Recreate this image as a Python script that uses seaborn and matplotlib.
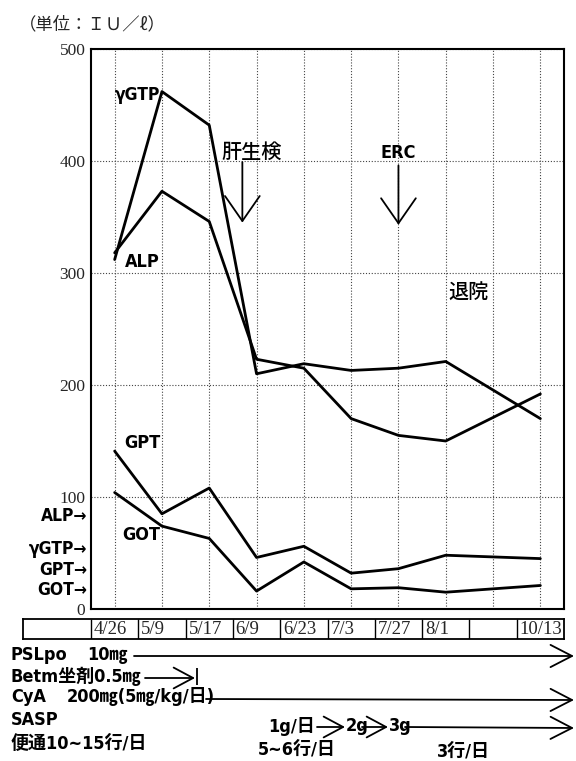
import numpy as np
import pandas as pd
import matplotlib
matplotlib.use("Agg")
import matplotlib.pyplot as plt
import seaborn as sns
from matplotlib import font_manager as fm

# ---------------- data ----------------
dates = ["4/26", "5/9", "5/17", "6/9", "6/23", "7/3", "7/27", "8/1", "", "10/13"]
measured_dates = ["4/26", "5/9", "5/17", "6/9", "6/23", "7/3", "7/27", "8/1", "10/13"]
ggtp = [312, 462, 432, 210, 219, 213, 215, 221, 170]
alp = [318, 373, 346, 223, 215, 170, 155, 150, 192]
gpt = [141, 85, 108, 46, 56, 32, 36, 48, 45]
got = [104, 74, 63, 16, 42, 18, 19, 15, 21]
yticks = [0, 100, 200, 300, 400, 500]
normal_labels = ["ALP", "γGTP", "GPT", "GOT"]
normal_values = [83, 54, 35, 17]

# ---------------- fonts ----------------
sns.set_style("white")
names = {f.name for f in fm.fontManager.ttflist}
stretch = "normal"
if "Liberation Sans Narrow" in names:
    latin = "Liberation Sans Narrow"
elif any(f.name == "DejaVu Sans" and f.stretch == "condensed" for f in fm.fontManager.ttflist):
    latin = "DejaVu Sans"
    stretch = "condensed"
else:
    latin = "Roboto"
fam_sans = [latin, "Noto Sans CJK JP", "DejaVu Sans"]
fam_cjk = ["Noto Sans CJK JP", "DejaVu Sans"]
fam_serif = ["Liberation Serif", "DejaVu Serif"]
plt.rcParams["font.family"] = fam_sans
ts = dict(family=fam_sans, fontstretch=stretch, color="black", fontweight="bold")
tc = dict(family=fam_cjk, color="black", fontweight="medium")

W, H = 576, 761
fig = plt.figure(figsize=(W / 100, H / 100), dpi=100)
fig.patch.set_facecolor("white")

# ---------------- main chart ----------------
L, R, T, B = 91, 564, 49, 609
ax = fig.add_axes([L / W, 1 - B / H, (R - L) / W, (B - T) / H])

pos = [dates.index(d) for d in measured_dates]
rows = []
for name, vals in [("γGTP", ggtp), ("ALP", alp), ("GPT", gpt), ("GOT", got)]:
    for p, v in zip(pos, vals):
        rows.append({"pos": p, "value": v, "marker": name})
df = pd.DataFrame(rows)
sns.lineplot(data=df, x="pos", y="value", hue="marker", units="marker", estimator=None,
             palette={"γGTP": "black", "ALP": "black", "GPT": "black", "GOT": "black"},
             linewidth=2.0, legend=False, ax=ax, zorder=3)

ax.set_xlim(-0.5, 9.5)
ax.set_ylim(0, 500)
ax.set_xticks(range(len(dates)))
ax.set_yticks(yticks)
ax.set_yticklabels([str(v) for v in yticks], family=fam_serif, fontsize=12.5)
ax.tick_params(axis="x", length=0, labelbottom=False)
ax.tick_params(axis="y", length=4, width=1, direction="out", pad=0, color="black")
ax.grid(True, linestyle=(0, (1, 1.6)), color="#444444", linewidth=0.8)
ax.set_xlabel("")
ax.set_ylabel("")
for s in ax.spines.values():
    s.set_color("black")
    s.set_linewidth(1.5)
    s.set_visible(True)

# series labels
ax.text(0.0, 459, "γGTP", ha="left", va="center", fontsize=12.5, **ts)
ax.text(0.21, 310, "ALP", ha="left", va="center", fontsize=13, **ts)
ax.text(0.21, 148, "GPT", ha="left", va="center", fontsize=13, **ts)
ax.text(0.17, 66, "GOT", ha="left", va="center", fontsize=13, **ts)

# normal-range markers on the left
for lab, v in zip(normal_labels, normal_values):
    ax.text(-0.57, v, lab + "→", ha="right", va="center", fontsize=12.5, clip_on=False, **ts)

# event annotations
arrow_big = dict(arrowstyle="->,head_length=1.8,head_width=1.25", lw=1.3, color="black",
                 shrinkA=0, shrinkB=0)
ax.text(2.26, 408, "肝生検", ha="left", va="center", fontsize=14.5, **tc)
ax.annotate("", xy=(2.7, 345), xytext=(2.7, 399), arrowprops=arrow_big)
ax.text(6.0, 407, "ERC", ha="center", va="center", fontsize=13, **ts)
ax.annotate("", xy=(6.0, 343), xytext=(6.0, 396), arrowprops=arrow_big)
ax.text(7.06, 282, "退院", ha="left", va="center", fontsize=14.5, **tc)

# unit title
fig.text(19 / W, 1 - 24 / H, "（単位：ＩＵ／ℓ）", ha="left", va="center", fontsize=12.5,
         family=fam_cjk)

# ---------------- date table ----------------
tL, tT, tB = 23, 619, 639
axt = fig.add_axes([tL / W, 1 - tB / H, (R - tL) / W, (tB - tT) / H])
left_edge = -0.5 - (L - tL) / ((R - L) / 10)
axt.set_xlim(left_edge, 9.5)
axt.set_ylim(0, 1)
axt.set_xticks([])
axt.set_yticks([])
for s in axt.spines.values():
    s.set_color("black")
    s.set_linewidth(1.3)
    s.set_visible(True)
axt.vlines([i - 0.5 for i in range(len(dates))], 0, 1, color="black", lw=1.0)
for i, d in enumerate(dates):
    axt.text(i - 0.44, 0.45, d, ha="left", va="center", family=fam_serif, fontsize=13.5)

# ---------------- treatment rows ----------------
ov = fig.add_axes([0, 0, 1, 1])
ov.set_xlim(0, W)
ov.set_ylim(H, 0)
ov.axis("off")
arrow_row = dict(arrowstyle="->,head_length=1.55,head_width=0.8", lw=1.3, color="black",
                 shrinkA=0, shrinkB=0)
arrow_small = dict(arrowstyle="->,head_length=1.4,head_width=0.75", lw=1.3, color="black",
                   shrinkA=0, shrinkB=0)

fs = 13
ov.text(11, 655, "PSLpo", ha="left", va="center", fontsize=fs, **ts)
ov.text(87, 655, "10㎎", ha="left", va="center", fontsize=fs, **ts)
ov.annotate("", xy=(574, 656), xytext=(134, 656), arrowprops=arrow_row)

ov.text(11, 676, "Betm坐剤0.5㎎", ha="left", va="center", fontsize=fs, **ts)
ov.annotate("", xy=(195, 678), xytext=(145, 678), arrowprops=arrow_small)
ov.vlines(197, 668, 685, color="black", lw=1.3)

ov.text(11, 697, "CyA", ha="left", va="center", fontsize=fs, **ts)
ov.text(67, 697, "200㎎(5㎎/kg/日)", ha="left", va="center", fontsize=fs, **ts)
ov.annotate("", xy=(574, 700), xytext=(206, 699), arrowprops=arrow_row)

ov.text(11, 720, "SASP", ha="left", va="center", fontsize=fs, **ts)
ov.text(268, 726, "1g/日", ha="left", va="center", fontsize=fs, **ts)
ov.annotate("", xy=(345, 727), xytext=(317, 727), arrowprops=arrow_small)
ov.text(346, 726, "2g", ha="left", va="center", fontsize=fs, **ts)
ov.annotate("", xy=(388, 727), xytext=(362, 727), arrowprops=arrow_small)
ov.text(389, 726, "3g", ha="left", va="center", fontsize=fs, **ts)
ov.annotate("", xy=(574, 728), xytext=(405, 727), arrowprops=arrow_row)

ov.text(11, 744, "便通10~15行/日", ha="left", va="center", fontsize=fs, **ts)
ov.text(258, 749, "5~6行/日", ha="left", va="center", fontsize=fs, **ts)
ov.text(437, 751, "3行/日", ha="left", va="center", fontsize=fs, **ts)

fig.savefig("out.png", dpi=100, facecolor="white")
